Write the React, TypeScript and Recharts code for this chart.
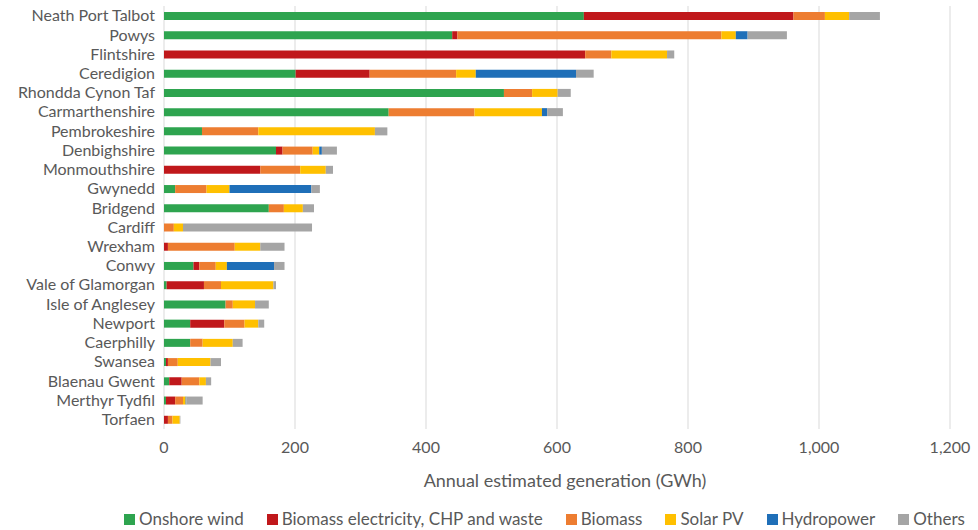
import {
  BarChart,
  Bar,
  XAxis,
  YAxis,
  CartesianGrid,
  Legend,
} from "recharts";

const areas = [
  "Neath Port Talbot",
  "Powys",
  "Flintshire",
  "Ceredigion",
  "Rhondda Cynon Taf",
  "Carmarthenshire",
  "Pembrokeshire",
  "Denbighshire",
  "Monmouthshire",
  "Gwynedd",
  "Bridgend",
  "Cardiff",
  "Wrexham",
  "Conwy",
  "Vale of Glamorgan",
  "Isle of Anglesey",
  "Newport",
  "Caerphilly",
  "Swansea",
  "Blaenau Gwent",
  "Merthyr Tydfil",
  "Torfaen",
];

const onshoreWind = [641, 440, 0, 201, 519, 343, 58, 171, 0, 17, 160, 0, 0, 45, 4, 94, 40, 40, 3, 8, 3, 0];
const biomassElec = [320, 8, 643, 113, 0, 0, 0, 10, 147, 0, 0, 0, 6, 9, 57, 0, 52, 0, 3, 19, 14, 6];
const biomass = [48, 403, 40, 132, 43, 131, 86, 46, 61, 48, 23, 15, 102, 25, 26, 11, 31, 19, 15, 27, 12, 7];
const solarPV = [37, 22, 85, 30, 39, 103, 178, 10, 39, 35, 29, 14, 39, 17, 80, 34, 21, 46, 50, 10, 4, 11];
const hydropower = [0, 18, 0, 153, 0, 8, 0, 4, 0, 125, 0, 0, 0, 72, 0, 0, 0, 0, 0, 0, 1, 0];
const others = [47, 60, 11, 27, 20, 24, 19, 23, 11, 13, 17, 197, 37, 16, 4, 21, 9, 15, 16, 8, 25, 1];

const xTicks = [0, 200, 400, 600, 800, 1000, 1200];

const series = [
  { key: "wind", name: "Onshore wind", values: onshoreWind, color: "#2ea44f" },
  { key: "bioElec", name: "Biomass electricity, CHP and waste", values: biomassElec, color: "#c0181b" },
  { key: "biomass", name: "Biomass", values: biomass, color: "#ed7d31" },
  { key: "solar", name: "Solar PV", values: solarPV, color: "#ffc000" },
  { key: "hydro", name: "Hydropower", values: hydropower, color: "#1f6fb8" },
  { key: "others", name: "Others", values: others, color: "#a5a5a5" },
];

const data = areas.map((area, i) => {
  const row: any = { area };
  series.forEach(s => {
    row[s.key] = s.values[i];
  });
  return row;
});

const textColor = "#595959";
const font = "Lato, 'Open Sans', sans-serif";

// legend in the series order, like the original
const renderLegend = () => (
  <div
    style={{
      height: 30,
      paddingTop: 8,
      boxSizing: "border-box",
      display: "flex",
      justifyContent: "flex-start",
      paddingLeft: 124,
      gap: 23,
      fontSize: 17,
      lineHeight: "22px",
      color: textColor,
      fontFamily: font,
      whiteSpace: "nowrap",
    }}
  >
    {series.map(s => (
      <div key={s.key} style={{ display: "flex", alignItems: "center", gap: 4 }}>
        <span style={{ width: 11, height: 11, background: s.color, display: "inline-block" }} />
        {s.name}
      </div>
    ))}
  </div>
);

export default function App() {
  return (
    <div style={{ position: "absolute", left: 0, top: 0, fontFamily: font, background: "#fff" }}>
      <BarChart
        width={978}
        height={530}
        data={data}
        layout="vertical"
        margin={{ top: 6, right: 28, left: 0, bottom: 0 }}
        barSize={8}
      >
        <CartesianGrid horizontal={false} stroke="#d9d9d9" />
        <XAxis
          type="number"
          domain={[0, 1200]}
          ticks={xTicks}
          axisLine={false}
          tickLine={false}
          tickMargin={7}
          height={71}
          tickFormatter={v => v.toLocaleString("en-GB")}
          tick={{ fill: textColor, fontSize: 16, fontFamily: font }}
          label={{
            value: "Annual estimated generation (GWh)",
            position: "insideBottom",
            offset: 13,
            dx: 8,
            fill: textColor,
            fontSize: 18,
            fontFamily: font,
          }}
        />
        <YAxis
          type="category"
          dataKey="area"
          width={164}
          axisLine={false}
          tickLine={false}
          tickMargin={3}
          interval={0}
          tick={{ fill: textColor, fontSize: 16, fontFamily: font }}
        />
        <Legend
          verticalAlign="bottom"
          content={renderLegend}
          wrapperStyle={{ left: 0, width: 978, bottom: 0 }}
        />
        {series.map(s => (
          <Bar
            key={s.key}
            dataKey={s.key}
            name={s.name}
            stackId="a"
            fill={s.color}
            isAnimationActive={false}
          />
        ))}
      </BarChart>
    </div>
  );
}
